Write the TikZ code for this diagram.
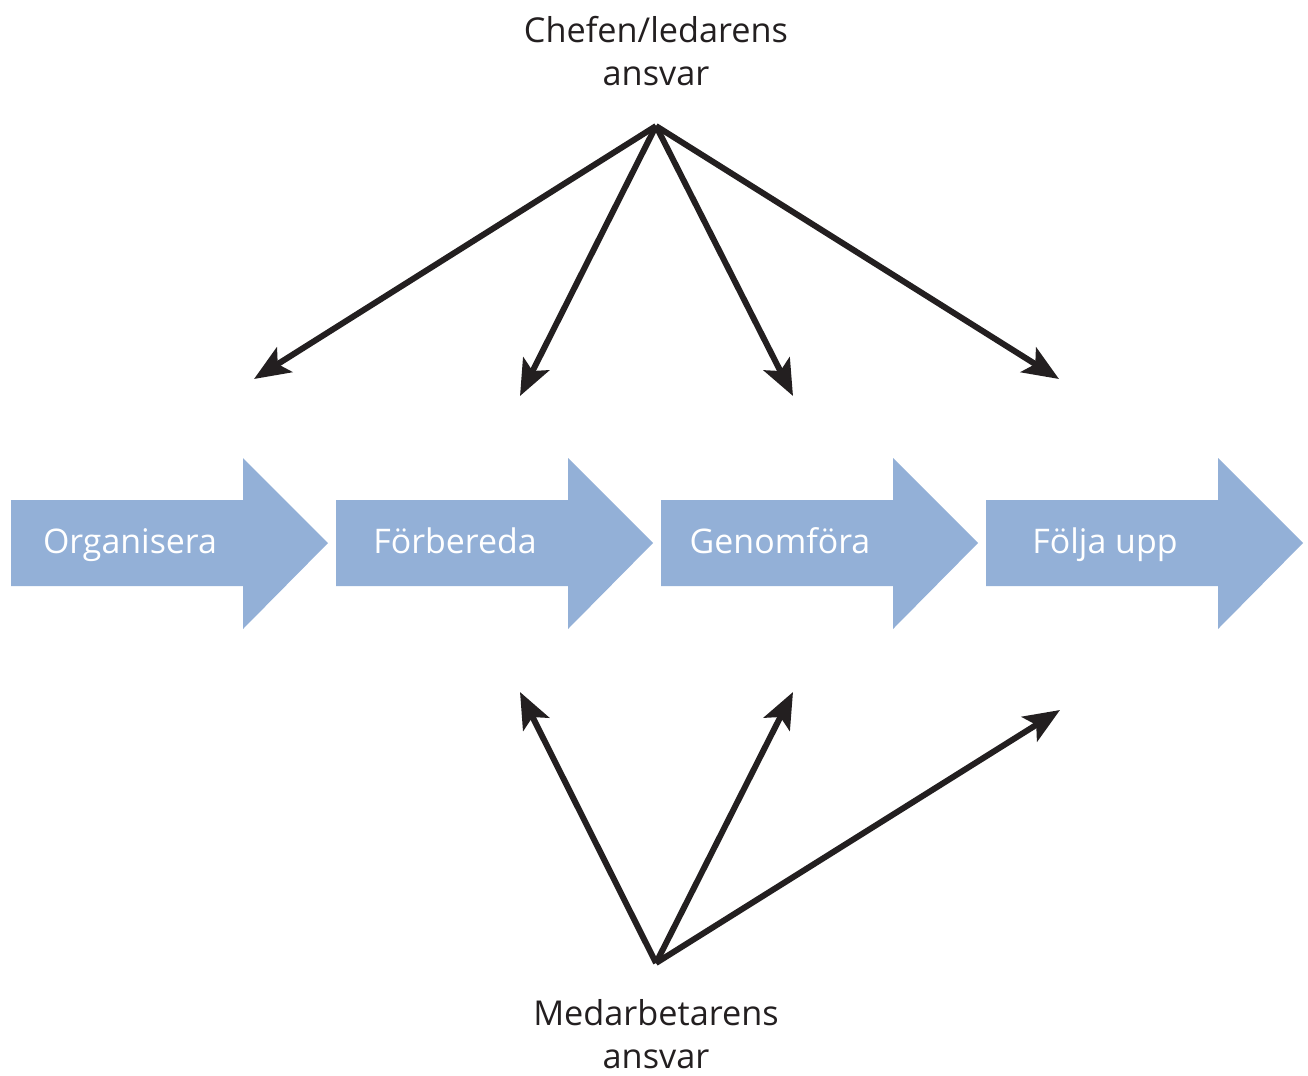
\documentclass[tikz,border=0pt]{standalone}
\usepackage{fontspec}
\setmainfont{Open Sans}
\usetikzlibrary{arrows.meta,positioning,calc}

\definecolor{stepblue}{HTML}{93B0D7}
\definecolor{inkblack}{HTML}{231F20}

\tikzset{
  resp/.style = {draw=inkblack, line width=3.4pt, -{Stealth[length=0.72cm,width=0.58cm,inset=0.16cm]}},
  phase/.style = {text=white, anchor=base, inner sep=0, font=\fontsize{19.3}{23}\selectfont},
  role/.style = {text=inkblack, align=center, anchor=base, inner sep=0, font=\fontsize{19.5}{24}\selectfont}
}

\begin{document}
\begin{tikzpicture}[x=0.02cm, y=-0.02cm]
        \useasboundingbox (0,0) rectangle (1308,1075);

        % draw the process steps
        \foreach \i/\txt/\name in {0/Organisera/org, 1/Förbereda/forb, 2/Genomföra/genom, 3/Följa upp/folj}{
          \fill[stepblue] (11+\i*325,500) -- ++(232,0) -- ++(0,-42) -- ++(85,85) -- ++(-85,86) -- ++(0,-43) -- ++(-232,0) -- cycle;
          \node[phase] (\name) at (130+\i*325,553) {\txt};
        }

        % the two roles (base = last line)
        \node[role] (chef) at (656,85) {Chefen/ledarens\\ansvar};
        \node[role] (staff) at (656,1068) {Medarbetarens\\ansvar};

        % apex and end points
        \coordinate (chef_top) at (656,126);
        \coordinate (staff_top) at (656,963);
        \coordinate (c_org) at (254,379);
        \coordinate (c_forb) at (520,396);
        \coordinate (c_genom) at (793,396);
        \coordinate (c_folj) at (1059,379);
        \coordinate (s_forb) at (520,692);
        \coordinate (s_genom) at (793,692);
        \coordinate (s_folj) at (1060,710);

        % draw the arrows
        \foreach \e in {c_org, c_forb, c_genom, c_folj}
          \draw[resp] (chef_top) -- (\e);
        \foreach \e in {s_forb, s_genom, s_folj}
          \draw[resp] (staff_top) -- (\e);

\end{tikzpicture}
\end{document}
